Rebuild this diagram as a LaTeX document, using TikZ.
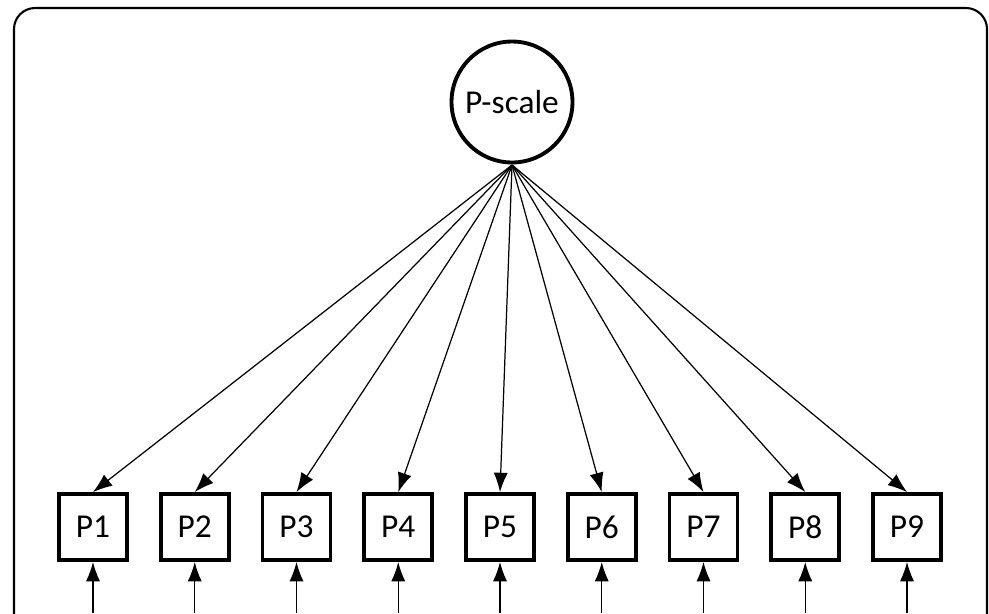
\documentclass[tikz,border=0pt]{standalone}
\usepackage{fontspec}
\setmainfont{Carlito}
\usetikzlibrary{arrows.meta}
\begin{document}
\begin{tikzpicture}[x=0.02cm, y=-0.02cm,
    item/.style = {draw, line width=2.2pt, minimum width=1.36cm, minimum height=1.32cm, inner sep=0pt, font=\fontsize{19}{19}\selectfont},
    latent/.style = {circle, draw, line width=2.2pt, minimum size=2.42cm, inner sep=0pt, font=\fontsize{19}{19}\selectfont},
    load/.style = {-{Latex[length=11pt, width=8pt]}, line width=0.7pt}]
    \useasboundingbox (0,0) rectangle (989,613);
    \draw[line width=1.2pt, rounded corners=12pt] (14,640) -- (14,8) -- (987,8) -- (987,640);

    \node[latent] (scale) at (512,102) {P-scale};
    \coordinate (hub) at (512,165);
    \foreach \i in {1,...,9} {
        \node[item] (p\i) at ({93+101.75*(\i-1)},527) {P\i};
        \coordinate (e\i) at ({93+101.75*(\i-1)},613);
        \draw[load] (hub) -- (p\i.north);
        \draw[load] (e\i) -- (p\i.south);
    }
\end{tikzpicture}
\end{document}
